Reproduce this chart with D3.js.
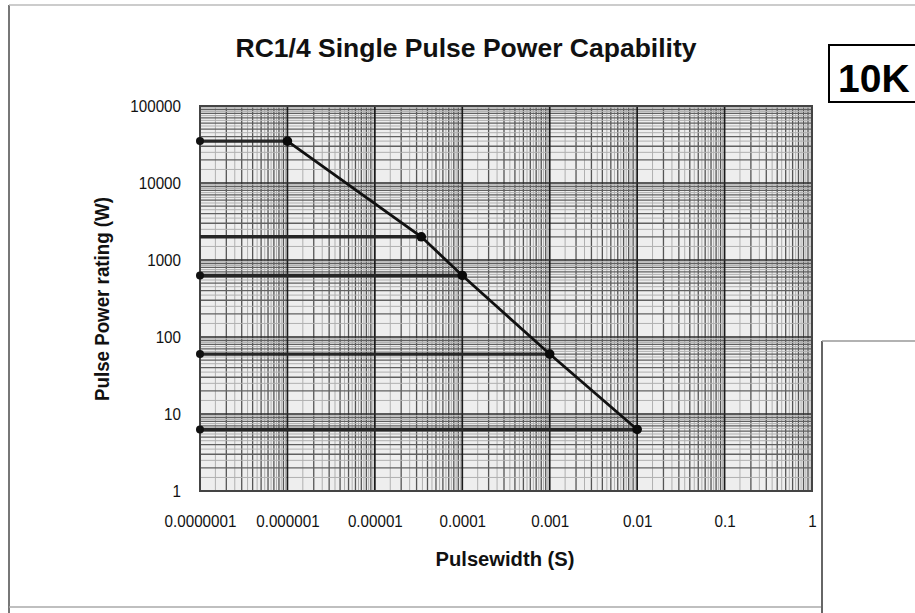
<!DOCTYPE html>
<html><head><meta charset="utf-8">
<script src="https://cdn.jsdelivr.net/npm/d3@7"></script>
<style>body{margin:0;background:#fff;overflow:hidden}</style>
</head><body><svg id="c" width="915" height="613"></svg>
<script>
// ---- data ----
const pulseWidths = [1e-6, 3.4e-5, 1e-4, 1e-3, 1e-2];
const powerRatings = [35000, 2000, 630, 60, 6.3];
const leftDots = [true, false, true, true, true];
const xTickValues = [1e-7, 1e-6, 1e-5, 1e-4, 1e-3, 1e-2, 1e-1, 1];
const xTickLabels = ["0.0000001", "0.000001", "0.00001", "0.0001", "0.001", "0.01", "0.1", "1"];
const yTickValues = [1, 10, 100, 1000, 10000, 100000];
const yTickLabels = ["1", "10", "100", "1000", "10000", "100000"];
const titleText = "RC1/4 Single Pulse Power Capability";
const xTitle = "Pulsewidth (S)";
const yTitle = "Pulse Power rating (W)";
const badgeText = "10K";

const svg = d3.select("#c");
const SANS = "'Liberation Sans',Arial,sans-serif";

const x = d3.scaleLog().domain([1e-7, 1]).range([200, 812]);
const y = d3.scaleLog().domain([1, 1e5]).range([491, 106]);

// outer scanned frame
svg.append("line").attr("x1", 9).attr("x2", 9).attr("y1", 5).attr("y2", 613).attr("stroke", "#777").attr("stroke-width", 2);
svg.append("line").attr("x1", 9).attr("x2", 915).attr("y1", 5).attr("y2", 5).attr("stroke", "#bbb").attr("stroke-width", 1.5);
svg.append("line").attr("x1", 9).attr("x2", 822).attr("y1", 607).attr("y2", 607).attr("stroke", "#aaa").attr("stroke-width", 1.5);
// bottom-right box
svg.append("line").attr("x1", 822).attr("x2", 822).attr("y1", 341).attr("y2", 613).attr("stroke", "#666").attr("stroke-width", 2);
svg.append("line").attr("x1", 822).attr("x2", 915).attr("y1", 341).attr("y2", 341).attr("stroke", "#999").attr("stroke-width", 1.5);
// 10K badge
svg.append("rect").attr("x", 829).attr("y", 45).attr("width", 100).attr("height", 57)
  .attr("fill", "#fff").attr("stroke", "#000").attr("stroke-width", 2);
svg.append("text").attr("x", 838).attr("y", 92).text(badgeText)
  .attr("font-family", SANS).attr("font-weight", "bold").attr("font-size", 39).attr("fill", "#000");

// plot background
const [x0, x1] = x.range();
const [y0, y1] = [y(1e5), y(1)];
svg.append("rect").attr("x", x0).attr("y", y0).attr("width", x1 - x0).attr("height", y1 - y0).attr("fill", "#eeeeee");

const g = svg.append("g");
// grid
const xDec = d3.range(-7, 0);
const yDec = d3.range(0, 5);
const fine = [1.5, 2.5, 3.5, 4.5, 5.5, 6.5, 7.5, 8.5, 9.5];
const mid = [2, 3, 4, 5, 6, 7, 8, 9];
xDec.forEach(e => {
  const b = Math.pow(10, e);
  fine.forEach(k => g.append("line").attr("x1", x(k * b)).attr("x2", x(k * b)).attr("y1", y0).attr("y2", y1).attr("stroke", "#b0b0b0").attr("stroke-width", 1));
  mid.forEach(k => g.append("line").attr("x1", x(k * b)).attr("x2", x(k * b)).attr("y1", y0).attr("y2", y1).attr("stroke", "#555").attr("stroke-width", 1.3));
});
yDec.forEach(e => {
  const b = Math.pow(10, e);
  fine.forEach(k => g.append("line").attr("y1", y(k * b)).attr("y2", y(k * b)).attr("x1", x0).attr("x2", x1).attr("stroke", "#b0b0b0").attr("stroke-width", 1));
  mid.forEach(k => g.append("line").attr("y1", y(k * b)).attr("y2", y(k * b)).attr("x1", x0).attr("x2", x1).attr("stroke", "#606060").attr("stroke-width", 1.3));
});
xTickValues.forEach(v => g.append("line").attr("x1", x(v)).attr("x2", x(v)).attr("y1", y0).attr("y2", y1).attr("stroke", "#1a1a1a").attr("stroke-width", 1.7));
yTickValues.forEach(v => g.append("line").attr("y1", y(v)).attr("y2", y(v)).attr("x1", x0).attr("x2", x1).attr("stroke", "#2a2a2a").attr("stroke-width", 1.7));
svg.append("rect").attr("x", x0).attr("y", y0).attr("width", x1 - x0).attr("height", y1 - y0)
  .attr("fill", "none").attr("stroke", "#444").attr("stroke-width", 2);

// axes
const xAxis = d3.axisBottom(x).tickValues(xTickValues).tickFormat((d, i) => xTickLabels[i]).tickSize(0).tickPadding(24);
const xa = svg.append("g").attr("transform", `translate(0,${y1})`).call(xAxis);
xa.select(".domain").remove();
xa.selectAll("text").attr("font-family", SANS).attr("font-size", 16.5).attr("fill", "#111")
  .attr("textLength", function() { return this.getComputedTextLength() * 0.92; }).attr("lengthAdjust", "spacingAndGlyphs");

const yAxis = d3.axisLeft(y).tickValues(yTickValues).tickFormat((d, i) => yTickLabels[i]).tickSize(0).tickPadding(19);
const ya = svg.append("g").attr("transform", `translate(${x0},0)`).call(yAxis);
ya.select(".domain").remove();
ya.selectAll("text").attr("font-family", SANS).attr("font-size", 16.5).attr("fill", "#111")
  .attr("textLength", function() { return this.getComputedTextLength() * 0.92; }).attr("lengthAdjust", "spacingAndGlyphs");

// titles
svg.append("text").attr("x", 466).attr("y", 57).attr("text-anchor", "middle").text(titleText)
  .attr("font-family", SANS).attr("font-weight", "bold").attr("font-size", 26).attr("fill", "#111")
  .attr("textLength", 461).attr("lengthAdjust", "spacingAndGlyphs");
svg.append("text").attr("x", 505).attr("y", 566).attr("text-anchor", "middle").text(xTitle)
  .attr("font-family", SANS).attr("font-weight", "bold").attr("font-size", 20).attr("fill", "#111")
  .attr("textLength", 139).attr("lengthAdjust", "spacingAndGlyphs");
svg.append("text").attr("transform", "translate(109,299) rotate(-90)").attr("text-anchor", "middle").text(yTitle)
  .attr("font-family", SANS).attr("font-weight", "bold").attr("font-size", 20).attr("fill", "#111")
  .attr("textLength", 204).attr("lengthAdjust", "spacingAndGlyphs");

// data: horizontal reference lines, curve, dots
const pts = pulseWidths.map((w, i) => ({ w, p: powerRatings[i], left: leftDots[i] }));
pts.forEach(d => {
  svg.append("line").attr("x1", x0).attr("x2", x(d.w)).attr("y1", y(d.p)).attr("y2", y(d.p))
    .attr("stroke", "#262626").attr("stroke-width", 3.4);
  if (d.left) svg.append("circle").attr("cx", x0).attr("cy", y(d.p)).attr("r", 4).attr("fill", "#111");
});
svg.append("path").datum(pts)
  .attr("d", d3.line().x(d => x(d.w)).y(d => y(d.p)))
  .attr("fill", "none").attr("stroke", "#111").attr("stroke-width", 2.8);
svg.selectAll("circle.pt").data(pts).join("circle").attr("class", "pt")
  .attr("cx", d => x(d.w)).attr("cy", d => y(d.p)).attr("r", 4.8).attr("fill", "#0a0a0a");
</script></body></html>
